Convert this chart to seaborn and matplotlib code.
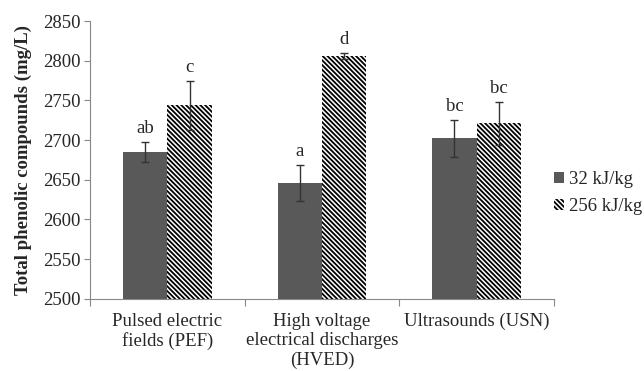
import matplotlib
matplotlib.use("Agg")
import matplotlib.pyplot as plt
import seaborn as sns
import pandas as pd
import numpy as np

categories = ["Pulsed electric\nfields (PEF)",
              "High voltage\nelectrical discharges\n(HVED)",
              "Ultrasounds (USN)"]
series_names = ["32 kJ/kg", "256 kJ/kg"]
values_32 = [2685, 2646, 2702]
values_256 = [2744, 2806, 2721]
err_32 = [12.5, 22.5, 23]
err_256 = [31, 4, 27]
letters_32 = ["ab", "a", "bc"]
letters_256 = ["c", "d", "bc"]
yticks = list(range(2500, 2851, 50))

df = pd.DataFrame({
    "Treatment": categories * 2,
    "Energy": [series_names[0]] * 3 + [series_names[1]] * 3,
    "Value": values_32 + values_256,
})

sns.set_style("white")
plt.rcParams["font.family"] = ["Liberation Serif", "DejaVu Serif"]
plt.rcParams["hatch.linewidth"] = 1.3
plt.rcParams["hatch.color"] = "black"

FS = 13.5
HATCH = "\\" * 7

fig = plt.figure(figsize=(6.44, 3.71), dpi=100)
ax = fig.add_axes([0.14, 0.195, 0.72, 0.748])

sns.barplot(data=df, x="Treatment", y="Value", hue="Energy",
            palette=["#595959", "white"], errorbar=None, width=0.574,
            saturation=1, ax=ax, linewidth=0)

errs = [err_32, err_256]
lets = [letters_32, letters_256]
vals = [values_32, values_256]
bar_conts = [c for c in ax.containers if hasattr(c, "patches")]
for k, cont in enumerate(bar_conts):
    for i, p in enumerate(cont.patches):
        if k == 1:
            p.set_hatch(HATCH)
            p.set_edgecolor("black")
            p.set_linewidth(0)
        cx = p.get_x() + p.get_width() / 2
        ax.errorbar(cx, vals[k][i], yerr=errs[k][i], color="#333333",
                    capsize=3, elinewidth=1, capthick=1, fmt="none")
        ax.annotate(lets[k][i], (cx, vals[k][i] + errs[k][i]),
                    xytext=(0, 3.5), textcoords="offset points",
                    ha="center", va="bottom", fontsize=FS)

ax.set_ylim(2500, 2850)
ax.set_yticks(yticks)
ax.set_yticklabels([str(t) for t in yticks], fontsize=FS)
ax.set_xlim(-0.5, 2.5)
ax.set_xlabel("")
ax.set_ylabel("Total phenolic compounds (mg/L)", fontsize=FS,
              fontweight="bold", labelpad=8)
ax.tick_params(axis="x", length=0, labelsize=FS, pad=10)
ax.tick_params(axis="y", left=True, length=4, color="#888888", width=0.8, pad=3)
ax.set_xticks([-0.5, 0.5, 1.5, 2.5], minor=True)
ax.tick_params(axis="x", which="minor", bottom=True, length=5, color="#888888", width=0.8)
for s in ["top", "right"]:
    ax.spines[s].set_visible(False)
for s in ["left", "bottom"]:
    ax.spines[s].set_color("#888888")
    ax.spines[s].set_linewidth(0.8)

handles, labels = ax.get_legend_handles_labels()
handles, labels = handles[:2], labels[:2]
if len(handles) > 1:
    handles[1].set_hatch(HATCH)
    handles[1].set_edgecolor("black")
    handles[1].set_linewidth(0)
    handles[0].set_linewidth(0)
ax.legend(handles, labels, loc="center left", bbox_to_anchor=(1.0, 0.38),
          frameon=False, fontsize=FS, handlelength=0.55, handleheight=0.55,
          handletextpad=0.25, labelspacing=0.55, borderaxespad=0,
          borderpad=0)

fig.savefig("out.png", dpi=100)
